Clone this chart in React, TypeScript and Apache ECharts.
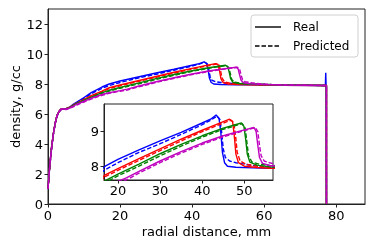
import React, { useEffect, useRef } from 'react';
import * as echarts from 'echarts';

const xTicks = [0, 20, 40, 60, 80];
const yTicks = [0, 2, 4, 6, 8, 10, 12];
const insetXTicks = [20, 30, 40, 50];
const insetYTicks = [8, 9];

const colors = ['#0000ff', '#ff0000', '#008000', '#bf00bf'];
const legendLabels = ['Real', 'Predicted'];

const blueReal: number[][] = [[0,1.0],[0.5,2.6],[1,3.8],[1.5,4.7],[2,5.4],[2.5,5.9],[3,6.15],[3.5,6.3],[4,6.35],[5,6.35],[6,6.45],[7,6.65],[8,6.8],[10,7.1],[12,7.42],[15,7.8],[17,8.0],[20,8.2],[25,8.47],[30,8.73],[35,8.98],[40,9.25],[42,9.36],[43.3,9.48],[44,9.38],[44.4,9.0],[44.8,8.4],[45.3,8.1],[46,8.0],[48,7.97],[52,7.95],[56,7.94],[65,7.92],[76,7.9],[77,7.9],[77.1,8.75],[77.2,7.9],[77.3,0]];
const bluePred: number[][] = [[0,1.0],[0.5,2.5],[1,3.7],[1.5,4.65],[2,5.35],[2.5,5.85],[3,6.1],[3.5,6.28],[4,6.35],[5,6.33],[6,6.45],[7,6.6],[8,6.75],[10,7.05],[12,7.35],[15,7.72],[17,7.9],[20,8.1],[25,8.4],[30,8.65],[35,8.92],[40,9.2],[42,9.33],[43.5,9.45],[44.2,9.35],[44.6,9.0],[45,8.5],[45.5,8.25],[46.5,8.15],[48,8.1],[52,8.02],[56,7.98],[65,7.94],[76,7.9],[77.3,7.9],[77.3,0]];
const redReal: number[][] = [[0,1.0],[0.5,2.6],[1,3.8],[1.5,4.7],[2,5.4],[2.5,5.9],[3,6.15],[3.5,6.3],[4,6.35],[5,6.35],[6,6.45],[7,6.6],[8,6.72],[10,6.98],[12,7.22],[15,7.52],[17,7.75],[20,7.93],[25,8.22],[30,8.5],[35,8.78],[40,9.04],[44,9.24],[46.5,9.36],[47.2,9.3],[47.6,8.9],[48,8.35],[48.6,8.1],[50,8.0],[53,7.96],[56,7.94],[65,7.92],[77.3,7.9],[77.3,0]];
const redPred: number[][] = [[0,1.0],[0.5,2.55],[1,3.75],[1.5,4.7],[2,5.38],[2.5,5.88],[3,6.12],[3.5,6.3],[4,6.35],[5,6.34],[6,6.43],[7,6.58],[8,6.7],[10,6.95],[12,7.18],[15,7.48],[17,7.7],[20,7.88],[25,8.17],[30,8.45],[35,8.73],[40,9.0],[44,9.2],[46.8,9.33],[47.5,9.25],[47.9,8.9],[48.3,8.4],[49,8.15],[50.5,8.05],[53,8.0],[56,7.97],[65,7.93],[77.3,7.9],[77.3,0]];
const greenReal: number[][] = [[0,1.0],[0.5,2.6],[1,3.8],[1.5,4.7],[2,5.4],[2.5,5.9],[3,6.15],[3.5,6.3],[4,6.35],[5,6.35],[6,6.43],[7,6.57],[8,6.7],[10,6.92],[12,7.12],[15,7.42],[17,7.58],[20,7.77],[25,8.06],[30,8.36],[35,8.63],[40,8.88],[45,9.1],[49.3,9.25],[49.9,9.15],[50.3,8.8],[50.7,8.35],[51.3,8.12],[53,8.03],[56,7.98],[65,7.93],[77.3,7.9],[77.3,0]];
const greenPred: number[][] = [[0,1.0],[0.5,2.55],[1,3.75],[1.5,4.68],[2,5.38],[2.5,5.88],[3,6.12],[3.5,6.28],[4,6.33],[5,6.33],[6,6.4],[7,6.53],[8,6.66],[10,6.88],[12,7.08],[15,7.38],[17,7.52],[20,7.72],[25,8.0],[30,8.3],[35,8.58],[40,8.84],[45,9.07],[49.5,9.23],[50.2,9.1],[50.6,8.7],[51,8.3],[51.8,8.12],[53.5,8.06],[56,8.02],[65,7.94],[77.3,7.9],[77.3,0]];
const magentaReal: number[][] = [[0,1.0],[0.5,2.6],[1,3.8],[1.5,4.7],[2,5.4],[2.5,5.9],[3,6.15],[3.5,6.3],[4,6.35],[5,6.33],[6,6.4],[7,6.52],[8,6.65],[10,6.85],[12,7.05],[15,7.3],[17,7.42],[20,7.56],[22,7.66],[25,7.85],[30,8.15],[35,8.42],[40,8.67],[45,8.88],[50,9.05],[52.3,9.12],[52.8,9.0],[53.2,8.6],[53.6,8.25],[54.3,8.08],[56,8.02],[60,7.97],[65,7.93],[77.3,7.9],[77.3,0]];
const magentaPred: number[][] = [[0,1.0],[0.5,2.5],[1,3.7],[1.5,4.65],[2,5.35],[2.5,5.85],[3,6.1],[3.5,6.26],[4,6.32],[5,6.3],[6,6.38],[7,6.48],[8,6.6],[10,6.8],[12,7.0],[15,7.25],[17,7.38],[20,7.52],[22,7.6],[25,7.8],[30,8.1],[35,8.38],[40,8.63],[45,8.85],[50,9.03],[52.6,9.12],[53.2,9.0],[53.6,8.6],[54,8.3],[54.7,8.15],[56,8.1],[58,8.03],[62,7.97],[65,7.94],[77.3,7.9],[77.3,0]];

const realSeries = [blueReal, redReal, greenReal, magentaReal];
const predSeries = [bluePred, redPred, greenPred, magentaPred];

const FONT = 'DejaVu Sans';
const AXIS_COLOR = '#222';

export default function App() {
  const ref = useRef<HTMLDivElement>(null);
  useEffect(() => {
    if (!ref.current) return;
    const chart = echarts.init(ref.current, undefined, { renderer: 'svg' });

    const series: any[] = [];
    [0, 1].forEach((gi) => {
      colors.forEach((c, i) => {
        series.push({
          type: 'line',
          name: legendLabels[0],
          xAxisIndex: gi,
          yAxisIndex: gi,
          data: realSeries[i],
          showSymbol: false,
          symbol: 'none',
          clip: true,
          z: gi === 0 ? 2 : 12,
          lineStyle: { color: c, width: 1.4, type: 'solid' },
        });
        series.push({
          type: 'line',
          name: legendLabels[1],
          xAxisIndex: gi,
          yAxisIndex: gi,
          data: predSeries[i],
          showSymbol: false,
          symbol: 'none',
          clip: true,
          z: gi === 0 ? 2 : 12,
          lineStyle: { color: c, width: 1.4, type: [4.5, 2] },
        });
      });
    });

    const axisCommon = {
      axisLine: { show: true, onZero: false, lineStyle: { color: AXIS_COLOR, width: 1 } },
      splitLine: { show: false },
      nameMoveOverlap: false,
      nameTextStyle: { color: '#000', fontFamily: FONT, fontSize: 13 },
    };

    chart.setOption({
      animation: false,
      grid: [
        { left: 48, top: 9, right: 9, bottom: 45, show: true, borderColor: AXIS_COLOR, borderWidth: 1, backgroundColor: '#fff', z: 0, containLabel: false, outerBoundsMode: 'none' },
        { left: 104, top: 104, width: 169, height: 76, show: true, borderColor: AXIS_COLOR, borderWidth: 1, backgroundColor: '#fff', z: 10, containLabel: false, outerBoundsMode: 'none' },
      ],
      xAxis: [
        {
          ...axisCommon,
          type: 'value', gridIndex: 0, min: 0, max: 88,
          name: 'radial distance, mm', nameLocation: 'middle', nameGap: 21,
          axisTick: { show: true, length: 3.5, customValues: xTicks, lineStyle: { color: AXIS_COLOR } },
          axisLabel: { customValues: xTicks, color: '#000', fontFamily: FONT, fontSize: 13, margin: 5 },
        },
        {
          ...axisCommon,
          type: 'value', gridIndex: 1, min: 16.7, max: 56.8, z: 10,
          axisTick: { show: true, length: 3.5, customValues: insetXTicks, lineStyle: { color: AXIS_COLOR } },
          axisLabel: { customValues: insetXTicks, color: '#000', fontFamily: FONT, fontSize: 13, margin: 4 },
        },
      ],
      yAxis: [
        {
          ...axisCommon,
          type: 'value', gridIndex: 0, min: 0, max: 13,
          name: 'density, g/cc', nameLocation: 'middle', nameGap: 26,
          axisTick: { show: true, length: 3.5, customValues: yTicks, lineStyle: { color: AXIS_COLOR } },
          axisLabel: { customValues: yTicks, color: '#000', fontFamily: FONT, fontSize: 13, margin: 5 },
        },
        {
          ...axisCommon,
          type: 'value', gridIndex: 1, min: 7.6, max: 9.8, z: 10,
          axisTick: { show: true, length: 3.5, customValues: insetYTicks, lineStyle: { color: AXIS_COLOR } },
          axisLabel: { customValues: insetYTicks, color: '#000', fontFamily: FONT, fontSize: 13, margin: 5 },
        },
      ],
      series,
      graphic: [
        {
          type: 'group', z: 100,
          children: [
            { type: 'rect', shape: { x: 251, y: 15, width: 107, height: 42, r: 3 }, style: { fill: 'rgba(255,255,255,0.8)', stroke: '#d0d0d0', lineWidth: 1 } },
            { type: 'line', shape: { x1: 255, y1: 27, x2: 281, y2: 27 }, style: { stroke: '#000', lineWidth: 1.4 } },
            { type: 'line', shape: { x1: 255, y1: 46, x2: 281, y2: 46 }, style: { stroke: '#000', lineWidth: 1.4, lineDash: [4.5, 2] } },
            { type: 'text', x: 293, y: 27, style: { text: legendLabels[0], fill: '#000', font: `12px "${FONT}"`, textVerticalAlign: 'middle', verticalAlign: 'middle' } },
            { type: 'text', x: 293, y: 46, style: { text: legendLabels[1], fill: '#000', font: `12px "${FONT}"`, textVerticalAlign: 'middle', verticalAlign: 'middle' } },
          ],
        },
      ],
    });
    return () => chart.dispose();
  }, []);
  return <div ref={ref} style={{ position: 'fixed', left: 0, top: 0, width: 374, height: 249 }} />;
}
